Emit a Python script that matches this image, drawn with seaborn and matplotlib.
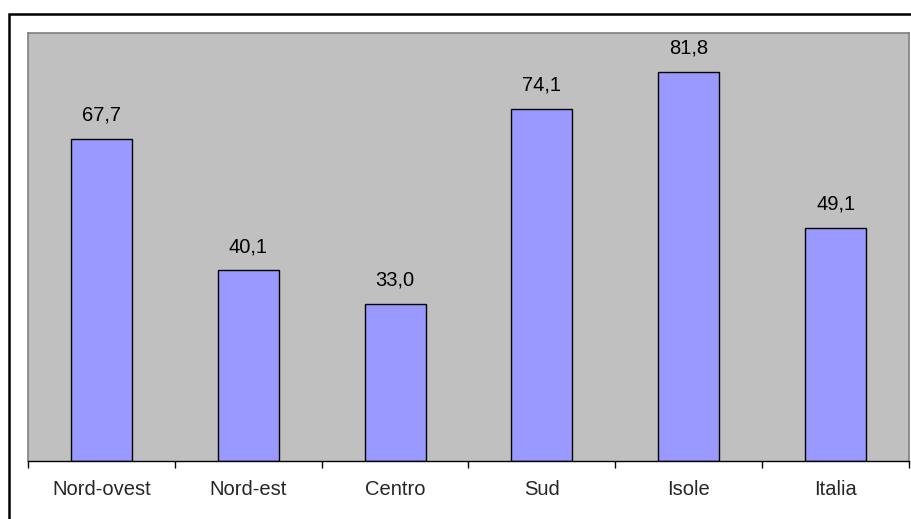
import matplotlib
matplotlib.use("Agg")
import matplotlib.pyplot as plt
import seaborn as sns
import pandas as pd
from matplotlib.patches import Rectangle

regions = ["Nord-ovest", "Nord-est", "Centro", "Sud", "Isole", "Italia"]
values = [67.7, 40.1, 33.0, 74.1, 81.8, 49.1]

df = pd.DataFrame({"region": regions, "value": values})

sns.set_style("white")
plt.rcParams["font.family"] = ["Liberation Sans", "DejaVu Sans"]

W, H = 912, 519
fig = plt.figure(figsize=(W / 100, H / 100), dpi=100)
fig.patch.set_facecolor("white")

# outer chart frame (runs off the right and bottom edges)
fig.add_artist(Rectangle((9.5 / W, -20 / H), 940 / W, (H - 14 + 20) / H,
                         transform=fig.transFigure, fill=False,
                         edgecolor="black", linewidth=1.8, clip_on=False))

ax = fig.add_axes([28 / W, 1 - 461 / H, 881 / W, 428 / H])
ax.set_facecolor("#C0C0C0")

sns.barplot(data=df, x="region", y="value", ax=ax, color="#9999FF",
            saturation=1, width=0.415, edgecolor="black", linewidth=1.0)

ax.set_ylim(0, 90)
ax.set_xlim(-0.5, len(regions) - 0.5)
ax.set_yticks([])
ax.set_xlabel("")
ax.set_ylabel("")

for i, v in enumerate(values):
    ax.text(i, v + 3.0, f"{v:.1f}".replace(".", ","), ha="center",
            va="bottom", fontsize=14.5, color="black")

for side in ["top", "right", "left"]:
    ax.spines[side].set_color("#808080")
    ax.spines[side].set_linewidth(1.2)
ax.spines["bottom"].set_color("black")
ax.spines["bottom"].set_linewidth(1.0)

# tick marks sit between categories
ax.set_xticks([i - 0.5 for i in range(len(regions) + 1)], minor=False)
ax.set_xticklabels([])
ax.tick_params(axis="x", which="major", length=5, width=1, color="black",
               direction="out", bottom=True)
ax.set_xticks(range(len(regions)), minor=True)
ax.set_xticklabels(regions, minor=True, fontsize=14.5)
ax.tick_params(axis="x", which="minor", length=0, pad=14)

fig.savefig("out.png", dpi=100, facecolor="white")
